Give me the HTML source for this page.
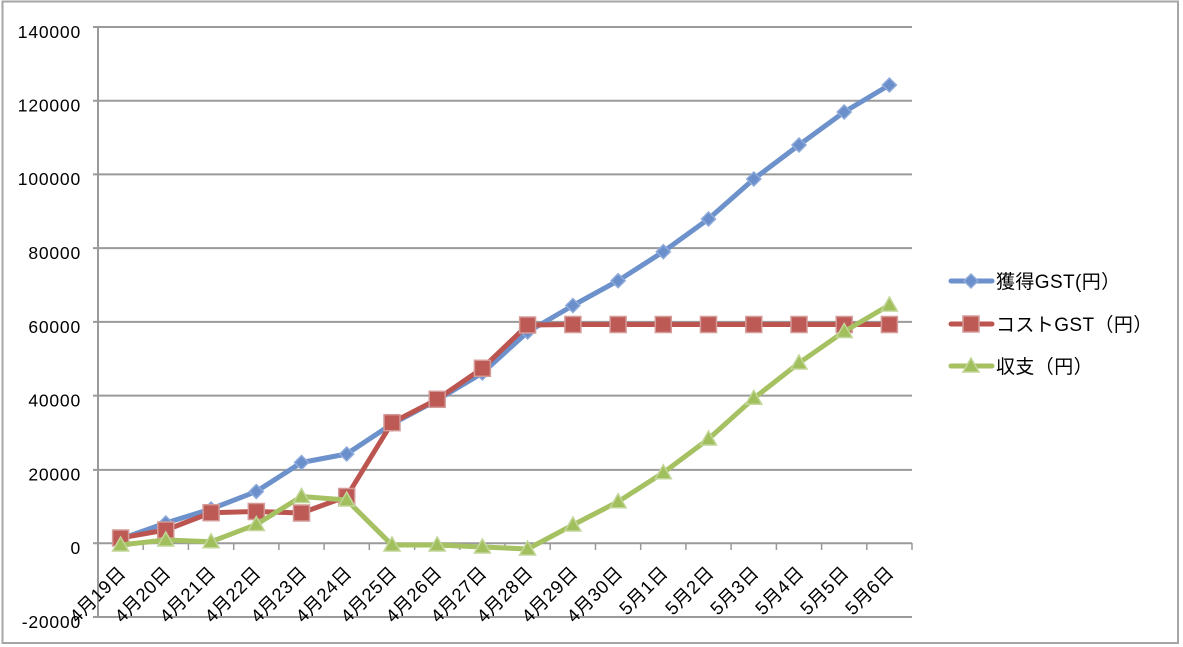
<!DOCTYPE html>
<html><head><meta charset="utf-8"><style>
html,body{margin:0;padding:0;background:#fff;}
svg{display:block;}
text{font-family:"Liberation Sans","Noto Sans CJK JP",sans-serif;fill:#000;}
</style></head><body>
<svg width="1183" height="647" viewBox="0 0 1183 647" xmlns="http://www.w3.org/2000/svg">
<rect x="0" y="0" width="1183" height="647" fill="#fff"/>
<rect x="2.5" y="1.5" width="1175.5" height="641.5" fill="none" stroke="#a6a6a6" stroke-width="2"/>
<g stroke="#9a9a9a" stroke-width="2">
<line x1="93" y1="27" x2="912" y2="27"/>
<line x1="93" y1="100.7" x2="912" y2="100.7"/>
<line x1="93" y1="174.4" x2="912" y2="174.4"/>
<line x1="93" y1="248.1" x2="912" y2="248.1"/>
<line x1="93" y1="321.9" x2="912" y2="321.9"/>
<line x1="93" y1="395.6" x2="912" y2="395.6"/>
<line x1="93" y1="469.9" x2="912" y2="469.9"/>
<line x1="93" y1="543.3" x2="912" y2="543.3"/>
<line x1="93" y1="617" x2="912" y2="617"/>
<line x1="98" y1="27" x2="98" y2="617"/>
</g>
<g stroke="#9a9a9a" stroke-width="1.5">
<line x1="98" y1="543" x2="98" y2="550"/><line x1="143.2" y1="543" x2="143.2" y2="550"/><line x1="188.4" y1="543" x2="188.4" y2="550"/><line x1="233.7" y1="543" x2="233.7" y2="550"/><line x1="278.9" y1="543" x2="278.9" y2="550"/><line x1="324.1" y1="543" x2="324.1" y2="550"/><line x1="369.3" y1="543" x2="369.3" y2="550"/><line x1="414.6" y1="543" x2="414.6" y2="550"/><line x1="459.8" y1="543" x2="459.8" y2="550"/><line x1="505" y1="543" x2="505" y2="550"/><line x1="550.2" y1="543" x2="550.2" y2="550"/><line x1="595.5" y1="543" x2="595.5" y2="550"/><line x1="640.7" y1="543" x2="640.7" y2="550"/><line x1="685.9" y1="543" x2="685.9" y2="550"/><line x1="731.1" y1="543" x2="731.1" y2="550"/><line x1="776.4" y1="543" x2="776.4" y2="550"/><line x1="821.6" y1="543" x2="821.6" y2="550"/><line x1="866.8" y1="543" x2="866.8" y2="550"/><line x1="912" y1="543" x2="912" y2="550"/>
</g>
<g font-size="17.5" text-anchor="end" letter-spacing="0.8">
<text x="81" y="38">140000</text>
<text x="81" y="111.5">120000</text>
<text x="81" y="185">100000</text>
<text x="81" y="259">80000</text>
<text x="81" y="333">60000</text>
<text x="81" y="406.5">40000</text>
<text x="81" y="480.5">20000</text>
<text x="81" y="554">0</text>
<text x="81" y="628">-20000</text>
</g>
<g font-size="18.5" text-anchor="end" letter-spacing="0.5">
<text transform="translate(127,574) rotate(-45)">4月19日</text>
<text transform="translate(172,574) rotate(-45)">4月20日</text>
<text transform="translate(217,574) rotate(-45)">4月21日</text>
<text transform="translate(262,574) rotate(-45)">4月22日</text>
<text transform="translate(308,574) rotate(-45)">4月23日</text>
<text transform="translate(353,574) rotate(-45)">4月24日</text>
<text transform="translate(398,574) rotate(-45)">4月25日</text>
<text transform="translate(443,574) rotate(-45)">4月26日</text>
<text transform="translate(488,574) rotate(-45)">4月27日</text>
<text transform="translate(534,574) rotate(-45)">4月28日</text>
<text transform="translate(579,574) rotate(-45)">4月29日</text>
<text transform="translate(624,574) rotate(-45)">4月30日</text>
<text transform="translate(669,574) rotate(-45)">5月1日</text>
<text transform="translate(715,574) rotate(-45)">5月2日</text>
<text transform="translate(760,574) rotate(-45)">5月3日</text>
<text transform="translate(805,574) rotate(-45)">5月4日</text>
<text transform="translate(850,574) rotate(-45)">5月5日</text>
<text transform="translate(895,574) rotate(-45)">5月6日</text>
</g>
<defs>
<path id="dia" d="M0,-7 L7,0 L0,7 L-7,0 Z"/>
<rect id="sq" x="-8" y="-8" width="16" height="16"/>
<path id="tri" d="M0,-8 L8,6 L-8,6 Z"/>
</defs>
<polyline fill="none" stroke="#6c91cb" stroke-width="5" stroke-linejoin="round" points="120.6,539 165.8,523 211.1,509 256.3,491.5 301.5,462.5 346.7,454 392,424 437.2,400 482.4,373 527.6,332 572.9,305.5 618.1,280.7 663.3,251.7 708.5,219 753.8,179 799,145 844.2,112 889.4,85"/>
<g fill="#6a8fca" stroke="#8eaadb" stroke-width="1.5">
<use href="#dia" x="120.6" y="539"/><use href="#dia" x="165.8" y="523"/><use href="#dia" x="211.1" y="509"/><use href="#dia" x="256.3" y="491.5"/><use href="#dia" x="301.5" y="462.5"/><use href="#dia" x="346.7" y="454"/><use href="#dia" x="392" y="424"/><use href="#dia" x="437.2" y="400"/><use href="#dia" x="482.4" y="373"/><use href="#dia" x="527.6" y="332"/><use href="#dia" x="572.9" y="305.5"/><use href="#dia" x="618.1" y="280.7"/><use href="#dia" x="663.3" y="251.7"/><use href="#dia" x="708.5" y="219"/><use href="#dia" x="753.8" y="179"/><use href="#dia" x="799" y="145"/><use href="#dia" x="844.2" y="112"/><use href="#dia" x="889.4" y="85"/>
</g>
<polyline fill="none" stroke="#bc5550" stroke-width="5" stroke-linejoin="round" points="120.6,538 165.8,530 211.1,512.7 256.3,511.5 301.5,513 346.7,496.5 392,422.7 437.2,399.3 482.4,368.3 527.6,325 572.9,324.5 618.1,324.5 663.3,324.5 708.5,324.5 753.8,324.5 799,324.5 844.2,324.5 889.4,324.5"/>
<g fill="#bd5a55" stroke="#d49a97" stroke-width="1.5">
<use href="#sq" x="120.6" y="538"/><use href="#sq" x="165.8" y="530"/><use href="#sq" x="211.1" y="512.7"/><use href="#sq" x="256.3" y="511.5"/><use href="#sq" x="301.5" y="513"/><use href="#sq" x="346.7" y="496.5"/><use href="#sq" x="392" y="422.7"/><use href="#sq" x="437.2" y="399.3"/><use href="#sq" x="482.4" y="368.3"/><use href="#sq" x="527.6" y="325"/><use href="#sq" x="572.9" y="324.5"/><use href="#sq" x="618.1" y="324.5"/><use href="#sq" x="663.3" y="324.5"/><use href="#sq" x="708.5" y="324.5"/><use href="#sq" x="753.8" y="324.5"/><use href="#sq" x="799" y="324.5"/><use href="#sq" x="844.2" y="324.5"/><use href="#sq" x="889.4" y="324.5"/>
</g>
<polyline fill="none" stroke="#a5c162" stroke-width="5" stroke-linejoin="round" points="120.6,545 165.8,540 211.1,541.7 256.3,524.5 301.5,496.5 346.7,500 392,545 437.2,545 482.4,547 527.6,549 572.9,525 618.1,501.7 663.3,472.7 708.5,439 753.8,398.3 799,363 844.2,331.5 889.4,305"/>
<g fill="#a2bf5e" stroke="#c2d698" stroke-width="1.5">
<use href="#tri" x="120.6" y="545"/><use href="#tri" x="165.8" y="540"/><use href="#tri" x="211.1" y="541.7"/><use href="#tri" x="256.3" y="524.5"/><use href="#tri" x="301.5" y="496.5"/><use href="#tri" x="346.7" y="500"/><use href="#tri" x="392" y="545"/><use href="#tri" x="437.2" y="545"/><use href="#tri" x="482.4" y="547"/><use href="#tri" x="527.6" y="549"/><use href="#tri" x="572.9" y="525"/><use href="#tri" x="618.1" y="501.7"/><use href="#tri" x="663.3" y="472.7"/><use href="#tri" x="708.5" y="439"/><use href="#tri" x="753.8" y="398.3"/><use href="#tri" x="799" y="363"/><use href="#tri" x="844.2" y="331.5"/><use href="#tri" x="889.4" y="305"/>
</g>
<line x1="951" y1="281" x2="992" y2="281" stroke="#6c91cb" stroke-width="5" stroke-linecap="round"/>
<use href="#dia" x="971" y="281" fill="#6a8fca" stroke="#8eaadb" stroke-width="1.5"/>
<line x1="951" y1="324" x2="992" y2="324" stroke="#bc5550" stroke-width="5" stroke-linecap="round"/>
<use href="#sq" x="971" y="324" fill="#bd5a55" stroke="#d49a97" stroke-width="1.5"/>
<line x1="951" y1="366" x2="992" y2="366" stroke="#a5c162" stroke-width="5" stroke-linecap="round"/>
<use href="#tri" x="971" y="366" fill="#a2bf5e" stroke="#c2d698" stroke-width="1.5"/>
<g font-size="19" letter-spacing="0.4">
<text x="996" y="288">獲得GST(円）</text>
<text x="996" y="331">コストGST（円）</text>
<text x="996" y="373">収支（円）</text>
</g>
</svg>
</body></html>
